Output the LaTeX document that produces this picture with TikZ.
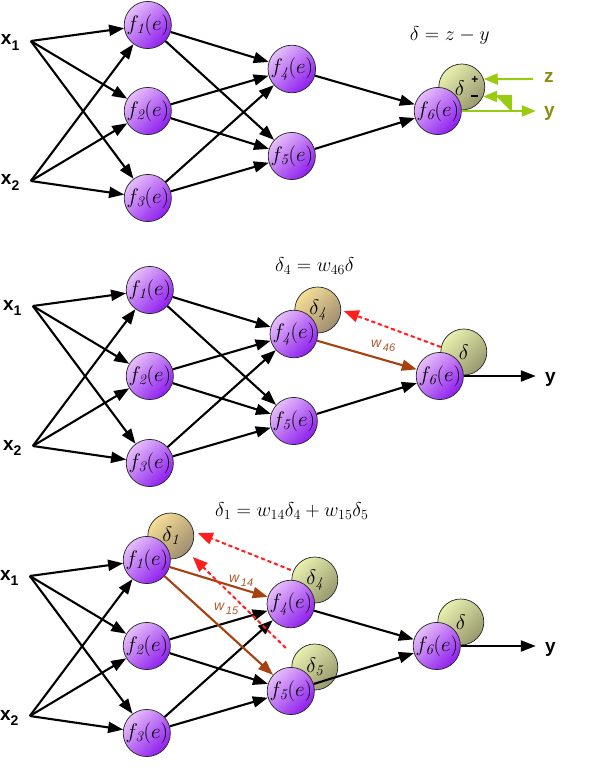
\RequirePackage{fix-cm}
\documentclass[tikz,border=0pt]{standalone}
\usepackage{fontspec}
\newfontfamily\sansf{Liberation Sans}
\usetikzlibrary{arrows.meta,calc}
\definecolor{purpL}{HTML}{E6BEFA}
\definecolor{purpD}{HTML}{8E1EEE}
\definecolor{grnL}{HTML}{E8F0AE}
\definecolor{grnD}{HTML}{98986E}
\definecolor{goldL}{HTML}{F5DE96}
\definecolor{goldD}{HTML}{9E8C70}
\definecolor{lime}{HTML}{99CC11}
\definecolor{olivet}{HTML}{8C8C14}
\definecolor{brn}{HTML}{A5420F}
\definecolor{brnt}{HTML}{B0592A}
\definecolor{redd}{HTML}{FF1E1E}
\pgfdeclarelayer{back}
\pgfdeclarelayer{bg}
\pgfsetlayers{back,bg,main}
\newcommand\fx[1]{$f_{\mathit{#1}}(e)$}
\newcommand\xsub[1]{\raisebox{-0.28em}{\fontsize{14}{14}\selectfont #1}}
\newcommand\wsub[1]{\raisebox{-0.32em}{\fontsize{11}{11}\selectfont\,#1}}
\tikzset{
  fnode/.style={circle, draw=black!85, line width=0.7pt, minimum size=46pt, inner sep=0pt,
    top color=purpL, bottom color=purpD, shading angle=45, font=\fontsize{21}{21}\selectfont},
  gnode/.style={circle, draw=black!85, line width=0.7pt, minimum size=46pt, inner sep=0pt,
    top color=grnL, bottom color=grnD, shading angle=45, font=\fontsize{21}{21}\selectfont},
  onode/.style={circle, draw=black!85, line width=0.7pt, minimum size=46pt, inner sep=0pt,
    top color=goldL, bottom color=goldD, shading angle=45, font=\fontsize{21}{21}\selectfont},
  arr/.style={line width=2.1pt, -{Triangle[length=15pt,width=11pt]}},
  brarr/.style={arr, draw=brn, fill=brn},
  rdarr/.style={line width=2pt, draw=redd, fill=redd, dash pattern=on 4pt off 3pt,
    -{Triangle[length=15pt,width=12pt]}},
  grarr/.style={line width=2pt, draw=lime, fill=lime, -{Triangle[length=14pt,width=11pt]}},
  grline/.style={line width=2pt, draw=lime},
  xlab/.style={font=\sansf\bfseries\fontsize{19}{19}\selectfont, inner sep=0pt, anchor=base west},
  ylab/.style={font=\sansf\bfseries\fontsize{19}{19}\selectfont, inner sep=0pt, anchor=base west},
  wlab/.style={text=brnt, font=\sansf\itshape\fontsize{14}{14}\selectfont, inner sep=0pt, anchor=base west},
  eq/.style={font=\fontsize{20}{20}\selectfont, inner sep=0pt, anchor=base},
  pm/.style={font=\sansf\bfseries\fontsize{12}{12}\selectfont, inner sep=0pt}
}
% the network of one panel: #1 prefix, #2 x shift, #3 y shift
\newcommand\net[3]{%
  \begin{scope}[shift={(#2,#3)}]
    \coordinate (#1i1) at (30,41);
    \coordinate (#1i2) at (30,181);
    \node[xlab] (#1x1) at (0,45) {x\xsub{1}};
    \node[xlab] (#1x2) at (0,185) {x\xsub{2}};
    \node[fnode] (#1f1) at (147,25) {\fx1};
    \node[fnode] (#1f2) at (147,111) {\fx2};
    \node[fnode] (#1f3) at (147,198) {\fx3};
    \node[fnode] (#1f4) at (291,69) {\fx4};
    \node[fnode] (#1f5) at (291,156) {\fx5};
    \node[fnode] (#1f6) at (437,111) {\fx6};
  \end{scope}
  \foreach \sa in {i1,i2}{\foreach \tb in {f1,f2,f3}{\draw[arr] (#1\sa) -- (#1\tb);}}
  \foreach \sa in {f2,f3}{\foreach \tb in {f4,f5}{\draw[arr] (#1\sa) -- (#1\tb);}}
  \draw[arr] (#1f5) -- (#1f6);
}
\begin{document}
\begin{tikzpicture}[x=1pt,y=-1pt]
\begin{pgfonlayer}{back}
\path[fill=white,use as bounding box] (0,0) rectangle (599,770);
\end{pgfonlayer}

% ---------------- panel 1 ----------------
\net{a}{0}{0}
\draw[arr] (af1) -- (af4);
\draw[arr] (af1) -- (af5);
\draw[arr] (af4) -- (af6);
\begin{pgfonlayer}{bg}
  \node[gnode] (ad) at ($(af6)+(24,-24)$) {};
\end{pgfonlayer}
\node[font=\fontsize{21}{21}\selectfont, inner sep=0pt] (adl) at ($(ad)+(-2,1)$) {$\delta$};
\node[pm] (aplus) at ($(ad)+(13,-7)$) {+};
\node[pm] (aminus) at ($(ad)+(13,9)$) {\rule{7pt}{1.4pt}};
\node[eq] (aeq) at (449,41) {$\delta = z - y$};
\coordinate (azs) at (532,79);
\coordinate (aye) at (535,111);
\coordinate (afb) at (510,111);
\node[ylab, text=olivet] (az) at (543,83) {z};
\node[ylab, text=olivet] (ay) at (543,117) {y};
\draw[grline] (af6.east) -- (afb);
\draw[grarr] (afb) -- (aye);
\draw[grarr] (afb) |- (ad.-24);
\draw[grarr] (azs) -- (ad.20);

% ---------------- panel 2 ----------------
\net{b}{2}{265}
\draw[arr] (bf1) -- (bf4);
\draw[arr] (bf1) -- (bf5);
\begin{pgfonlayer}{bg}
  \node[onode] (bd4) at ($(bf4)+(24,-24)$) {$\delta_{\mathit{4}}$};
  \node[gnode] (bd) at ($(bf6)+(24,-24)$) {$\delta$};
\end{pgfonlayer}
\draw[brarr] (bf4) -- (bf6);
\node[wlab] (bw46) at (370,347) {w\wsub{46}};
\draw[rdarr] ($(bd)+(-23,-5)$) -- ($(bd4)+(26,1)$);
\coordinate (bye) at (535,376);
\draw[arr] (bf6.east) -- (bye);
\node[ylab] (by) at (544,382) {y};
\node[eq] (beq) at (314,271) {$\delta_4 = w_{46}\delta$};

% ---------------- panel 3 ----------------
\net{c}{-1}{535}
\draw[arr] (cf4) -- (cf6);
\begin{pgfonlayer}{bg}
  \node[onode] (cd1) at ($(cf1)+(24,-24)$) {$\delta_{\mathit{1}}$};
  \node[gnode] (cd4) at ($(cf4)+(24,-24)$) {$\delta_{\mathit{4}}$};
  \node[gnode] (cd5) at ($(cf5)+(24,-24)$) {$\delta_{\mathit{5}}$};
  \node[gnode] (cd) at ($(cf6)+(24,-24)$) {$\delta$};
\end{pgfonlayer}
\draw[brarr] (cf1) -- (cf4);
\draw[brarr] (cf1) -- (cf5);
\node[wlab] (cw14) at (228,582) {w\wsub{14}};
\node[wlab] (cw15) at (213,610) {w\wsub{15}};
\draw[rdarr] ($(cd4)+(-24,-10)$) -- ($(cd1)+(27,-3)$);
\draw[rdarr] ($(cd5)+(-29,-19)$) -- ($(cd1)+(22,21)$);
\coordinate (cye) at (535,646);
\draw[arr] (cf6.east) -- (cye);
\node[ylab] (cy) at (544,652) {y};
\node[eq] (ceq) at (291,516) {$\delta_1 = w_{14}\delta_4 + w_{15}\delta_5$};
\end{tikzpicture}
\end{document}
